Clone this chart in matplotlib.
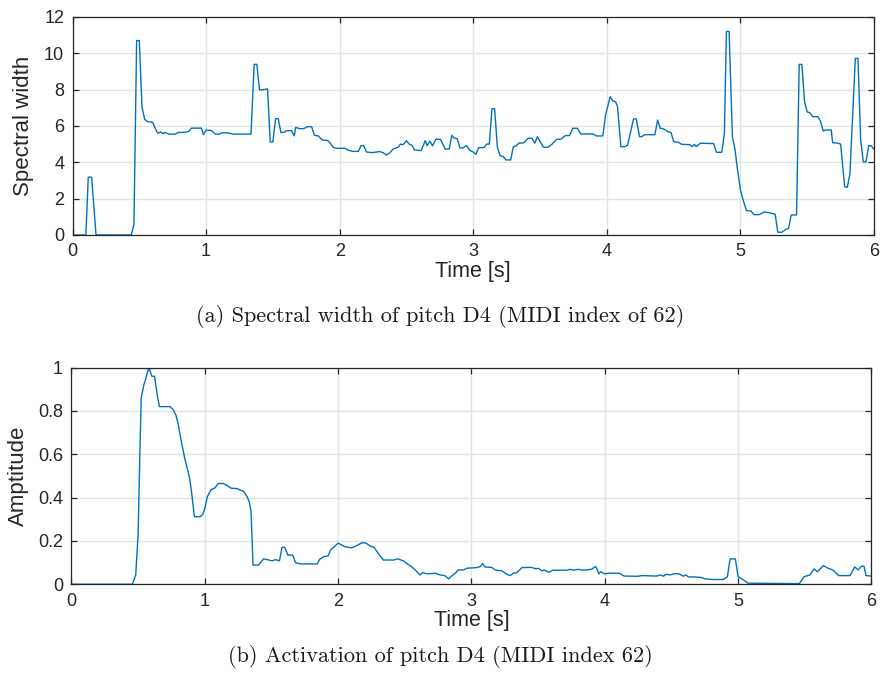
import matplotlib
matplotlib.use("Agg")
import matplotlib.pyplot as plt
from matplotlib.ticker import FuncFormatter

# Spectral width of pitch D4 over time
sw_time = [0, 0.10, 0.118, 0.143, 0.176, 0.44, 0.46, 0.48, 0.50, 0.52, 0.54, 0.56, 0.60, 0.63, 0.64,
           0.66, 0.68, 0.69, 0.72, 0.77, 0.79, 0.84, 0.87, 0.89, 0.965, 0.98, 1.00, 1.04, 1.07, 1.10,
           1.12, 1.18, 1.20, 1.336, 1.36, 1.38, 1.40, 1.43, 1.46, 1.48, 1.50, 1.52, 1.54, 1.56, 1.59,
           1.60, 1.64, 1.66, 1.67, 1.70, 1.73, 1.76, 1.79, 1.81, 1.84, 1.87, 1.91, 1.93, 1.95, 1.975,
           2.04, 2.06, 2.095, 2.14, 2.16, 2.18, 2.20, 2.24, 2.30, 2.325, 2.35, 2.375, 2.40, 2.44, 2.455,
           2.475, 2.50, 2.52, 2.54, 2.56, 2.61, 2.64, 2.655, 2.675, 2.695, 2.72, 2.755, 2.79, 2.82, 2.84,
           2.855, 2.88, 2.90, 2.92, 2.95, 2.975, 2.995, 3.02, 3.04, 3.08, 3.10, 3.12, 3.14, 3.16, 3.18,
           3.20, 3.225, 3.245, 3.28, 3.30, 3.32, 3.345, 3.36, 3.38, 3.41, 3.44, 3.46, 3.48, 3.50, 3.525,
           3.56, 3.59, 3.625, 3.655, 3.69, 3.72, 3.745, 3.78, 3.805, 3.90, 3.92, 3.97, 3.99, 4.025, 4.045,
           4.065, 4.08, 4.105, 4.135, 4.155, 4.20, 4.22, 4.245, 4.26, 4.285, 4.36, 4.38, 4.40, 4.42, 4.44,
           4.46, 4.48, 4.50, 4.535, 4.56, 4.62, 4.64, 4.655, 4.67, 4.70, 4.80, 4.82, 4.86, 4.88, 4.895,
           4.915, 4.94, 4.96, 4.975, 5.00, 5.02, 5.045, 5.08, 5.10, 5.14, 5.18, 5.21, 5.26, 5.28, 5.31,
           5.34, 5.36, 5.38, 5.42, 5.44, 5.46, 5.48, 5.50, 5.52, 5.54, 5.58, 5.60, 5.62, 5.64, 5.68, 5.69,
           5.73, 5.75, 5.78, 5.80, 5.82, 5.86, 5.88, 5.90, 5.92, 5.94, 5.96, 5.98, 6.00]
sw_value = [0, 0, 3.18, 3.18, 0, 0, 0.6, 10.7, 10.7, 7.06, 6.37, 6.24, 6.2, 5.69, 5.6,
            5.67, 5.57, 5.65, 5.55, 5.55, 5.64, 5.65, 5.7, 5.88, 5.88, 5.52, 5.77, 5.75, 5.55, 5.55,
            5.63, 5.6, 5.55, 5.55, 9.39, 9.39, 7.98, 8.0, 8.04, 5.12, 5.12, 6.4, 6.4, 5.64, 5.66,
            5.74, 5.74, 5.45, 5.92, 5.85, 5.85, 5.96, 5.96, 5.49, 5.45, 5.23, 5.2, 5.05, 4.83, 4.77,
            4.77, 4.68, 4.6, 4.6, 4.92, 4.92, 4.57, 4.53, 4.59, 4.53, 4.4, 4.51, 4.73, 4.84, 5.0,
            4.97, 5.19, 5.0, 4.95, 4.68, 4.64, 5.19, 4.92, 5.16, 4.9, 5.27, 5.27, 4.73, 4.73, 5.49,
            5.34, 5.30, 4.79, 4.79, 4.92, 4.64, 4.59, 4.44, 4.81, 4.81, 5.0, 5.0, 6.95, 6.95, 4.86,
            4.37, 4.31, 4.13, 4.13, 4.86, 4.9, 5.08, 5.05, 5.08, 5.32, 5.32, 5.05, 5.41, 5.14, 4.83,
            4.83, 5.0, 5.27, 5.27, 5.47, 5.47, 5.87, 5.87, 5.56, 5.56, 5.45, 5.45, 6.6, 7.61, 7.37,
            7.34, 7.06, 4.86, 4.86, 4.94, 6.39, 6.39, 5.41, 5.41, 5.52, 5.52, 6.33, 5.87, 5.85, 5.78,
            5.67, 5.65, 5.14, 5.1, 4.99, 4.97, 4.86, 4.99, 4.86, 5.05, 5.03, 4.55, 4.55, 5.6, 11.2,
            11.2, 5.41, 4.68, 3.76, 2.48, 1.93, 1.34, 1.32, 1.12, 1.12, 1.27, 1.23, 1.14, 0.15, 0.15,
            0.31, 0.35, 1.1, 1.1, 9.39, 9.39, 7.34, 6.77, 6.73, 6.51, 6.51, 6.24, 5.72, 5.78, 5.78, 5.08,
            5.05, 5.0, 2.66, 2.62, 3.39, 9.72, 9.72, 5.23, 4.02, 4.02, 4.92, 4.9, 4.72]

# Activation (amplitude) of pitch D4 over time
act_time = [0, 0.457, 0.482, 0.50, 0.513, 0.523, 0.543, 0.558, 0.58, 0.603, 0.623, 0.643, 0.66, 0.74,
            0.764, 0.784, 0.80, 0.827, 0.852, 0.884, 0.90, 0.922, 0.965, 0.985, 1.00, 1.02, 1.045, 1.078,
            1.10, 1.14, 1.18, 1.20, 1.24, 1.266, 1.29, 1.317, 1.334, 1.347, 1.362, 1.405, 1.44, 1.467,
            1.505, 1.53, 1.56, 1.58, 1.60, 1.623, 1.66, 1.68, 1.72, 1.844, 1.864, 1.894, 1.925, 1.945,
            1.98, 2.0, 2.05, 2.10, 2.135, 2.18, 2.21, 2.24, 2.27, 2.30, 2.34, 2.415, 2.45, 2.49, 2.53,
            2.55, 2.585, 2.615, 2.635, 2.665, 2.73, 2.765, 2.80, 2.83, 2.845, 2.88, 2.90, 2.94, 2.965,
            3.04, 3.065, 3.085, 3.10, 3.15, 3.18, 3.23, 3.265, 3.29, 3.315, 3.34, 3.38, 3.45, 3.485,
            3.50, 3.53, 3.545, 3.58, 3.61, 3.715, 3.74, 3.765, 3.80, 3.84, 3.90, 3.93, 3.94, 3.955,
            3.97, 4.0, 4.025, 4.11, 4.145, 4.25, 4.275, 4.39, 4.42, 4.44, 4.46, 4.49, 4.525, 4.56,
            4.59, 4.605, 4.63, 4.675, 4.725, 4.75, 4.81, 4.89, 4.92, 4.94, 4.98, 5.0, 5.04, 5.075,
            5.46, 5.495, 5.54, 5.57, 5.595, 5.64, 5.675, 5.71, 5.755, 5.84, 5.875, 5.90, 5.925, 5.945,
            5.96, 6.0]
act_value = [0, 0, 0.043, 0.23, 0.60, 0.86, 0.92, 0.95, 1.0, 0.96, 0.96, 0.874, 0.82, 0.82,
             0.805, 0.78, 0.74, 0.65, 0.574, 0.497, 0.43, 0.312, 0.312, 0.323, 0.35, 0.405, 0.435, 0.446,
             0.465, 0.465, 0.45, 0.443, 0.442, 0.435, 0.43, 0.405, 0.38, 0.335, 0.089, 0.089, 0.117, 0.114,
             0.108, 0.114, 0.108, 0.171, 0.171, 0.135, 0.135, 0.10, 0.094, 0.094, 0.117, 0.128, 0.131, 0.16,
             0.178, 0.19, 0.174, 0.168, 0.177, 0.192, 0.19, 0.177, 0.171, 0.143, 0.112, 0.112, 0.117, 0.108,
             0.089, 0.082, 0.062, 0.043, 0.054, 0.048, 0.051, 0.043, 0.04, 0.025, 0.035, 0.051, 0.066, 0.066,
             0.074, 0.077, 0.082, 0.095, 0.08, 0.078, 0.066, 0.062, 0.046, 0.04, 0.051, 0.054, 0.077, 0.078,
             0.071, 0.074, 0.062, 0.066, 0.055, 0.065, 0.065, 0.069, 0.065, 0.069, 0.065, 0.069, 0.082, 0.074,
             0.048, 0.058, 0.048, 0.051, 0.051, 0.038, 0.037, 0.04, 0.038, 0.043, 0.037, 0.046, 0.043, 0.049,
             0.048, 0.037, 0.043, 0.034, 0.034, 0.031, 0.025, 0.022, 0.022, 0.035, 0.117, 0.117, 0.035, 0.02,
             0.005, 0.003, 0.035, 0.043, 0.071, 0.058, 0.086, 0.074, 0.066, 0.04, 0.04, 0.08, 0.066, 0.083,
             0.083, 0.04, 0.038]

x_ticks = [0, 1, 2, 3, 4, 5, 6]
sw_ticks = [0, 2, 4, 6, 8, 10, 12]
act_ticks = [0, 0.2, 0.4, 0.6, 0.8, 1.0]

LINE_COLOR = "#0072BD"
AX_COLOR = "#262626"
GRID_COLOR = "#e3e3e3"
SANS = ["Liberation Sans", "DejaVu Sans"]

plt.rcParams["font.family"] = SANS

fig = plt.figure(figsize=(8.8, 6.75), dpi=100)


def style_axes(ax, yticks, ylabel, ylim, ylabel_x):
    ax.set_xlim(0, 6)
    ax.set_ylim(*ylim)
    ax.set_xticks(x_ticks)
    ax.set_yticks(yticks)
    ax.yaxis.set_major_formatter(FuncFormatter(lambda v, p: f"{v:g}"))
    ax.grid(True, color=GRID_COLOR, linewidth=1.0)
    ax.set_axisbelow(True)
    for s in ax.spines.values():
        s.set_color(AX_COLOR)
        s.set_linewidth(0.9)
    ax.tick_params(direction="in", top=True, right=True, length=4.5, width=0.9,
                   color=AX_COLOR, labelcolor=AX_COLOR, labelsize=13, pad=6)
    ax.set_xlabel("Time [s]", fontsize=15.5, color=AX_COLOR, labelpad=0.5)
    ax.set_ylabel(ylabel, fontsize=16, color=AX_COLOR)
    ax.yaxis.set_label_coords(ylabel_x, 0.5)


ax1 = fig.add_axes([0.0824, 0.6519, 0.9108, 0.3230])
ax1.plot(sw_time, sw_value, color=LINE_COLOR, linewidth=1.0)
style_axes(ax1, sw_ticks, "Spectral width", (0, 12), -0.048)

ax2 = fig.add_axes([0.0812, 0.1344, 0.9090, 0.3210])
ax2.plot(act_time, act_value, color=LINE_COLOR, linewidth=1.0)
style_axes(ax2, act_ticks, "Amptitude", (0, 1), -0.0535)

fig.text(0.5, 1 - 316 / 675, "(a) Spectral width of pitch D4 (MIDI index of 62)",
         ha="center", va="center", fontsize=16, family="cmr10", color="#1a1a1a")
fig.text(0.5, 1 - 657 / 675, "(b) Activation of pitch D4 (MIDI index 62)",
         ha="center", va="center", fontsize=16, family="cmr10", color="#1a1a1a")

fig.savefig("out.png", dpi=100)
